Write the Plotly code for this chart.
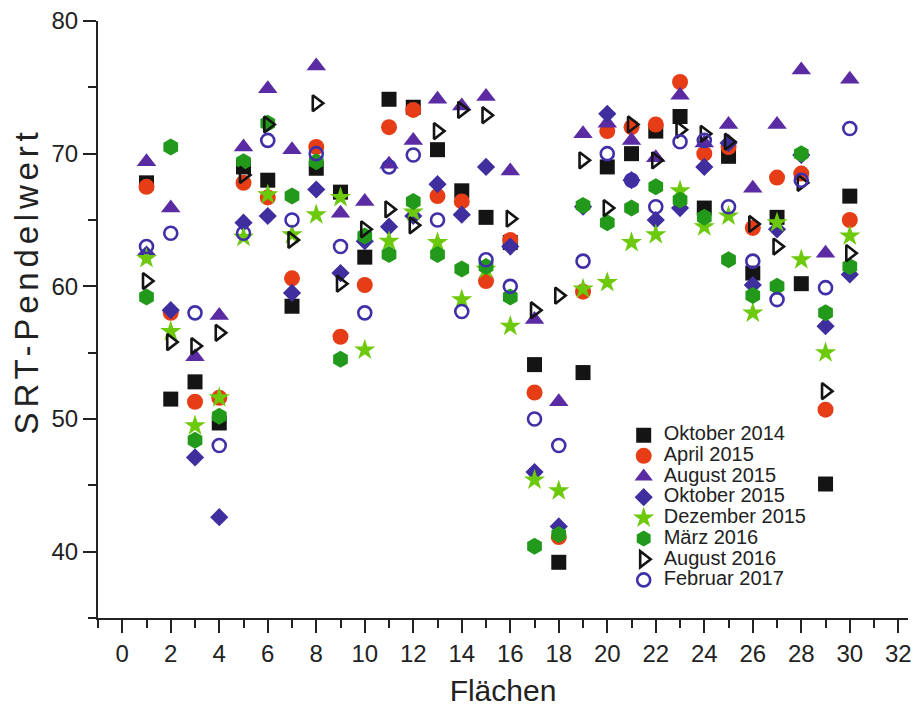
import plotly.graph_objects as go

flaechen = list(range(1, 31))

okt_2014 = [67.8, 51.5, 52.8, 49.7, 69.0, 68.0, 58.5, 68.9, 67.1, 62.2,
            74.1, 73.5, 70.3, 67.2, 65.2, 63.3, 54.1, 39.2, 53.5, 69.0,
            70.0, 71.7, 72.8, 65.9, 69.8, 61.0, 65.2, 60.2, 45.1, 66.8]
apr_2015 = [67.5, 58.0, 51.3, 51.6, 67.8, 66.7, 60.6, 70.5, 56.2, 60.1,
            72.0, 73.3, 66.8, 66.4, 60.4, 63.5, 52.0, 41.1, 59.6, 71.7,
            72.0, 72.2, 75.4, 70.0, 70.5, 64.4, 68.2, 68.5, 50.7, 65.0]
aug_2015 = [69.4, 65.9, 54.7, 57.8, 70.5, 74.9, 70.3, 76.6, 65.5, 66.4,
            69.2, 71.0, 74.1, 73.6, 74.3, 68.7, 57.5, 51.3, 71.5, 72.3,
            71.0, 69.7, 74.4, 70.8, 72.2, 67.4, 72.2, 76.3, 62.5, 75.6]
okt_2015 = [62.4, 58.2, 47.1, 42.6, 64.8, 65.3, 59.5, 67.3, 61.0, 63.4,
            64.5, 65.3, 67.7, 65.4, 69.0, 63.0, 46.0, 41.9, 66.0, 73.0,
            68.0, 65.0, 65.9, 69.0, 70.8, 60.1, 64.3, 69.9, 57.0, 60.9]
dez_2015 = [62.1, 56.6, 49.5, 51.6, 63.7, 66.9, 63.9, 65.4, 66.7, 55.2,
            63.4, 65.6, 63.3, 59.0, 61.3, 57.0, 45.4, 44.6, 59.8, 60.3,
            63.3, 63.9, 67.2, 64.5, 65.3, 58.0, 64.8, 62.0, 55.0, 63.8]
maerz_2016 = [59.2, 70.5, 48.4, 50.2, 69.4, 72.3, 66.8, 69.4, 54.5, 63.8,
              62.4, 66.4, 62.4, 61.3, 61.5, 59.2, 40.4, 41.3, 66.1, 64.8,
              65.9, 67.5, 66.5, 65.2, 62.0, 59.3, 60.0, 70.0, 58.0, 61.5]
aug_2016 = [60.4, 55.8, 55.5, 56.5, 68.4, 72.2, 63.5, 73.8, 60.2, 64.3,
            65.8, 64.6, 71.7, 73.3, 72.9, 65.1, 58.2, 59.3, 69.5, 65.9,
            72.2, 69.5, 71.8, 71.5, 70.9, 64.7, 63.0, 67.8, 52.1, 62.5]
feb_2017 = [63.0, 64.0, 58.0, 48.0, 64.0, 71.0, 65.0, 70.0, 63.0, 58.0,
            69.0, 69.9, 65.0, 58.1, 62.0, 60.0, 50.0, 48.0, 61.9, 70.0,
            68.0, 66.0, 70.9, 71.0, 66.0, 61.9, 59.0, 68.0, 59.9, 71.9]

x_ticks = list(range(0, 33, 2))
y_ticks = [40, 50, 60, 70, 80]

series = [
    ("Oktober 2014", okt_2014, "square", "#141414", 15, 0),
    ("April 2015", apr_2015, "circle", "#E63D16", 16, 0),
    ("August 2015", aug_2015, "triangle-up", "#5A2BA2", 17, 0),
    ("Oktober 2015", okt_2015, "diamond", "#3E2E9E", 14, 0),
    ("Dezember 2015", dez_2015, "star", "#6CC90C", 16, 0),
    ("März 2016", maerz_2016, "hexagon", "#23991B", 17, 0),
    ("August 2016", aug_2016, "triangle-right-open", "#141414", 14, 2.6),
    ("Februar 2017", feb_2017, "circle-open", "#4030A8", 13, 2.6),
]

fig = go.Figure()
for name, vals, sym, col, size, lw in series:
    fig.add_trace(go.Scatter(
        x=flaechen, y=vals, mode="markers",
        name='<span style="font-size:20px">' + name + "</span>",
        marker=dict(symbol=sym, color=col, size=size,
                    line=dict(width=lw, color=col)),
    ))

axis_font = "Liberation Sans, Arial, sans-serif"
fig.update_layout(
    width=916, height=711,
    margin=dict(l=98, r=4, t=21, b=93),
    paper_bgcolor="white", plot_bgcolor="white",
    showlegend=True,
    legend=dict(x=0.649, y=0.332, xanchor="left", yanchor="top",
                bgcolor="rgba(0,0,0,0)", borderwidth=0,
                font=dict(family=axis_font, size=13.6, color="#222222"),
                itemsizing="trace"),
    xaxis=dict(range=[-1, 32.4], tickmode="array", tickvals=x_ticks,
               ticktext=[str(t) for t in x_ticks],
               ticklabeloverflow="allow",
               showgrid=False, zeroline=False, showline=True,
               linecolor="#222222", linewidth=2,
               ticks="outside", ticklen=13, tickwidth=2, tickcolor="#222222",
               tickfont=dict(family="Liberation Sans Narrow, Arial Narrow, Liberation Sans, sans-serif",
                             size=24, color="#222222"),
               minor=dict(dtick=1, tick0=0, ticks="outside", ticklen=8,
                          tickwidth=2, tickcolor="#222222", showgrid=False),
               title=dict(text="Flächen", standoff=14,
                          font=dict(family=axis_font, size=30, color="#222222"))),
    yaxis=dict(range=[35, 80], tickmode="array", tickvals=y_ticks,
               ticktext=[str(t) for t in y_ticks],
               showgrid=False, zeroline=False, showline=True,
               linecolor="#222222", linewidth=2,
               ticks="outside", ticklen=13, tickwidth=2, tickcolor="#222222",
               tickfont=dict(family=axis_font, size=24, color="#222222"),
               minor=dict(dtick=5, tick0=0, ticks="outside", ticklen=8,
                          tickwidth=2, tickcolor="#222222", showgrid=False)),
    annotations=[dict(
        text='<span style="letter-spacing:4.8px">SRT-Pendelwert</span>',
        xref="paper", yref="paper", x=-0.088, y=0.565,
        xanchor="center", yanchor="middle", textangle=-90, showarrow=False,
        font=dict(family=axis_font, size=33, color="#222222"))],
)

fig.write_html("out.html")
